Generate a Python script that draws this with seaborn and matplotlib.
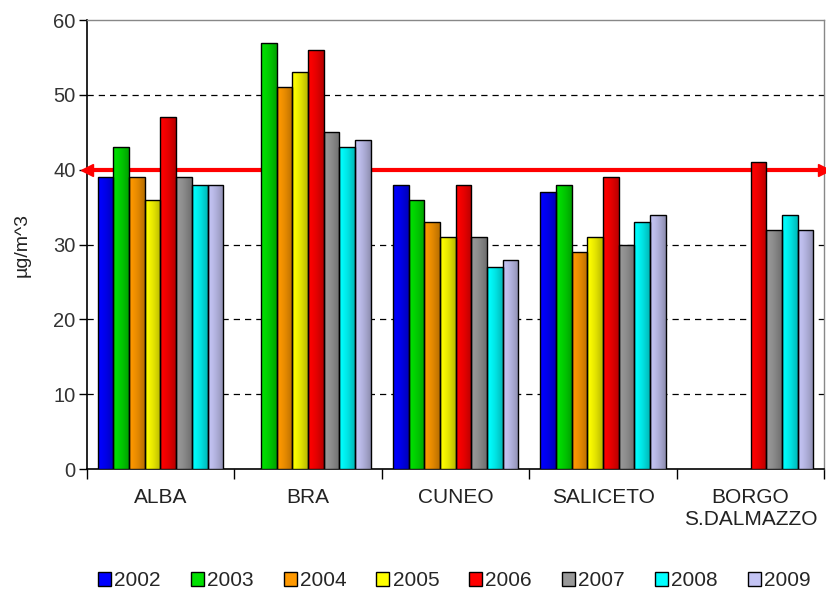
import numpy as np
import pandas as pd
import matplotlib
matplotlib.use("Agg")
import matplotlib.pyplot as plt
import matplotlib.patches as mpatches
import seaborn as sns

sites = ["ALBA", "BRA", "CUNEO", "SALICETO", "BORGO\nS.DALMAZZO"]
years = ["2002", "2003", "2004", "2005", "2006", "2007", "2008", "2009"]
v2002 = [39, np.nan, 38, 37, np.nan]
v2003 = [43, 57, 36, 38, np.nan]
v2004 = [39, 51, 33, 29, np.nan]
v2005 = [36, 53, 31, 31, np.nan]
v2006 = [47, 56, 38, 39, 41]
v2007 = [39, 45, 31, 30, 32]
v2008 = [38, 43, 27, 33, 34]
v2009 = [38, 44, 28, 34, 32]
limit_value = 40
colors = ["#0000FF", "#00E000", "#FF9900", "#FFFF00", "#FF0000", "#999999", "#00FFFF", "#C4C4F4"]

series = [v2002, v2003, v2004, v2005, v2006, v2007, v2008, v2009]
rows = []
for y, vals in zip(years, series):
    for s, v in zip(sites, vals):
        rows.append({"site": s, "year": y, "value": v})
df = pd.DataFrame(rows)

sns.set_theme(style="white")
plt.rcParams["font.family"] = ["Liberation Sans", "DejaVu Sans"]

fig = plt.figure(figsize=(8.26, 5.9), dpi=100)
ax = fig.add_axes([0.105, 0.205, 0.893, 0.761])

sns.barplot(data=df, x="site", y="value", hue="year", order=sites, hue_order=years,
            palette=colors, width=0.85, edgecolor="black", linewidth=1.0,
            saturation=1, ax=ax, legend=False, zorder=3)

# gradient shading on bars
for p in ax.patches:
    h = p.get_height()
    if not np.isfinite(h) or h == 0:
        continue
    x0 = p.get_x(); w = p.get_width(); y0 = p.get_y()
    fc = np.array(matplotlib.colors.to_rgb(p.get_facecolor()))
    t = np.linspace(0, 1, 32)
    fac = 1.0 - 0.28 * t ** 1.5
    img = (fc[None, :] * fac[:, None])[None, :, :]
    im = ax.imshow(img, extent=[x0, x0 + w, y0, y0 + h], aspect="auto", zorder=3.1,
                   interpolation="bilinear")
    im.set_clip_path(p)
    p.set_zorder(3.2)
    p.set_facecolor("none")

ax.set_xlim(-0.5, 4.5)
ax.set_ylim(0, 60)
ax.set_yticks(range(0, 61, 10))
for yv in range(10, 60, 10):
    ax.axhline(yv, color="black", lw=0.9, ls=(0, (5, 4)), zorder=1)

# limit line
ax.axhline(limit_value, color="red", lw=3, zorder=2)
ax.plot([0.0], [limit_value], marker="<", color="red", ms=9, transform=ax.get_yaxis_transform(),
        clip_on=False, zorder=5)
ax.plot([1.0], [limit_value], marker=">", color="red", ms=9, transform=ax.get_yaxis_transform(),
        clip_on=False, zorder=5)

ax.set_xlabel("")
ax.set_ylabel("µg/m^3", fontsize=14, labelpad=16, color="#222222")
ax.set_xticks(range(len(sites)))
ax.set_xticklabels(sites, fontsize=15)
ax.set_xticks(np.arange(-0.5, 4.6, 1.0), minor=True)
ax.tick_params(axis="x", which="major", length=0, pad=14)
ax.tick_params(axis="x", which="minor", length=7, width=1, color="black", bottom=True, direction="out")
ax.tick_params(axis="y", length=6, width=1, color="black", left=True, direction="out", labelsize=14.5, pad=2)
for lbl in ax.get_yticklabels():
    lbl.set_color("#333333")
for lbl in ax.get_xticklabels():
    lbl.set_color("#222222")

for s in ["left", "bottom"]:
    ax.spines[s].set_color("black")
    ax.spines[s].set_linewidth(1.2)
for s in ["top", "right"]:
    ax.spines[s].set_color("#888888")
    ax.spines[s].set_linewidth(1.0)

handles = [mpatches.Patch(facecolor=c, edgecolor="black", linewidth=1.0, label=y)
           for c, y in zip(colors, years)]
fig.legend(handles=handles, loc="lower center", bbox_to_anchor=(0.55, -0.032), ncol=8,
           frameon=False, fontsize=15, handlelength=0.62, handleheight=0.62,
           handletextpad=0.15, columnspacing=1.45)

fig.savefig("out.png", dpi=100)
